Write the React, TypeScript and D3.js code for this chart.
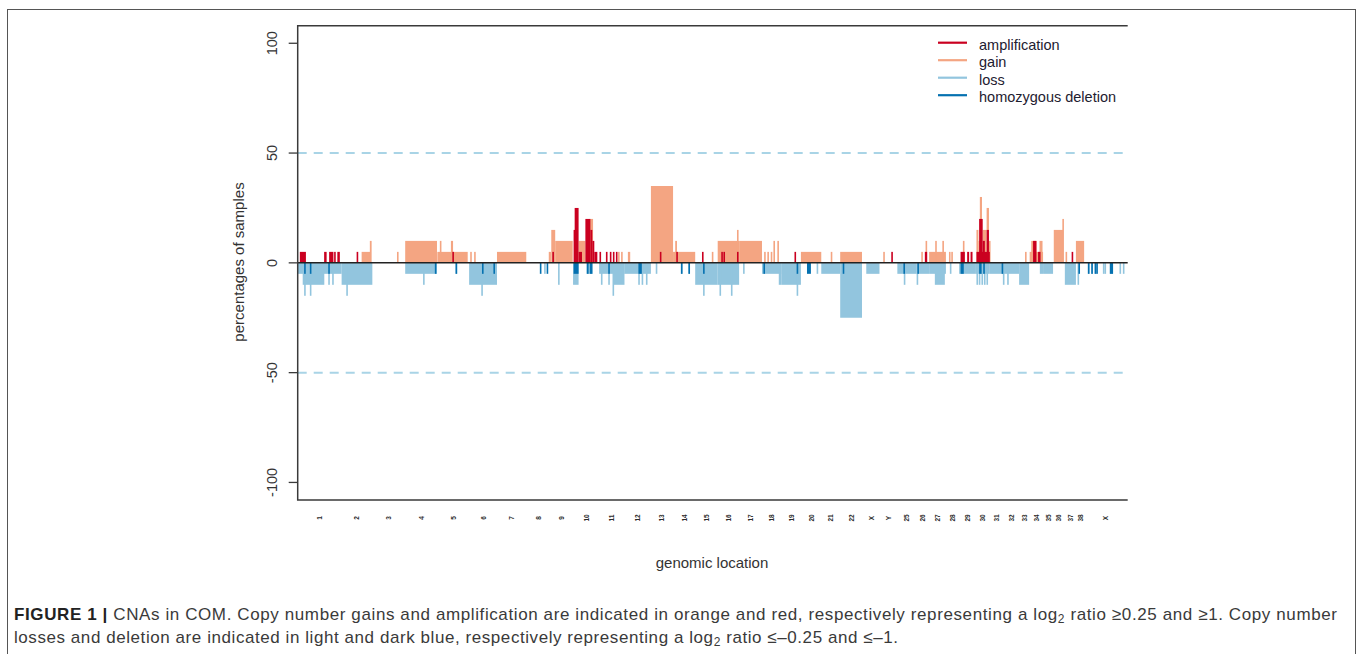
import React from "react";
import * as d3 from "d3";

// chromosome labels as printed under the axis and their lengths (Mb)
const chrNames = [
  "1", "2", "3", "4", "5", "6", "7", "8", "9", "10", "11", "12", "13", "14",
  "15", "16", "17", "18", "19", "20", "21", "22", "X", "Y", "25", "26", "27",
  "28", "29", "30", "31", "32", "33", "34", "35", "36", "37", "38", "X",
];
const chrLengths = [
  123, 86, 92, 89, 90, 78, 82, 69, 62, 73, 71, 74, 62, 62, 63, 60, 64, 54, 55,
  57, 53, 61, 51, 48, 54, 35, 47, 37, 47, 39, 39, 43, 28, 39, 28, 33, 31, 23,
  122,
];

// [chromosome index (1-based), start Mb, end Mb, % of samples]
const gain = [
  [2, 56, 81, 5], [2, 79, 84, 10], [3, 69, 71, 5], [4, 0, 89, 10],
  [5, 1, 86, 5], [5, 8, 10.5, 10], [5, 39, 45, 10], [6, 3, 5, 5], [6, 14, 16, 5],
  [7, 0, 82, 5], [8, 63, 69, 5], [9, 1, 12, 15], [9, 12, 61, 10],
  [10, 15.5, 34.5, 10], [10, 46, 56, 20], [11, 53, 55, 5], [11, 61.5, 65, 5],
  [12, 9.5, 16, 5], [13, 0, 62, 35], [14, 0, 62, 5], [14, 6, 11, 10],
  [15, 46.5, 48.5, 5], [16, 0, 60, 10], [16, 54, 58, 15], [17, 0, 64, 10],
  [18, 6, 7.5, 5], [18, 15, 16.5, 5], [18, 24.5, 26, 5], [18, 32, 33.5, 10],
  [18, 43, 44.5, 10], [20, 0, 57, 5], [21, 26.5, 28, 5], [22, 0, 61, 5],
  [24, 8.5, 10, 5], [26, 13, 15, 5], [26, 25, 27, 10], [27, 0, 47, 5],
  [27, 17, 19, 10], [27, 37, 38.5, 10], [28, 8.5, 10, 5], [28, 15, 17, 5],
  [29, 10.5, 12, 10], [30, 1.5, 7, 15], [30, 7, 11, 10], [30, 11, 17, 30],
  [30, 19, 29.5, 15], [30, 30, 36.5, 25], [30, 36.5, 39, 10],
  [33, 16.5, 18.5, 5], [34, 1.5, 39, 5], [34, 6, 20.5, 10], [34, 29, 37.5, 10],
  [36, 2, 28, 15], [36, 26, 30, 20], [37, 2, 3.5, 5], [38, 0, 23, 10],
];
const amplification = [
  [1, 6, 23, 5], [1, 74, 81, 5], [1, 88, 100, 5], [1, 102, 106, 5],
  [1, 111, 118, 5], [2, 42, 46, 5], [5, 43, 45, 5], [9, 4, 8, 5],
  [10, 1.5, 4.5, 15], [10, 4.5, 15.5, 25], [10, 15.5, 25, 5],
  [10, 34.5, 48.5, 20], [10, 48.5, 54, 15], [10, 54, 59.5, 10],
  [10, 59.5, 68, 5], [11, 1, 5.5, 5], [11, 19, 21.5, 5], [11, 30, 33, 5],
  [11, 38.5, 41, 5], [11, 47, 51, 5], [13, 25, 27, 5], [14, 9, 13, 5],
  [15, 19, 21, 5], [16, 10, 11.5, 5], [16, 16, 17.5, 5], [16, 54, 55.5, 5],
  [19, 37, 41, 5], [24, 31, 35.5, 5], [26, 23, 29.5, 5], [29, 4, 16, 5],
  [29, 22.5, 28, 5], [29, 32, 37.5, 5], [30, 1.5, 39, 5], [30, 9, 19, 20],
  [30, 19, 25, 10], [30, 30, 36.5, 15], [34, 11, 20.5, 10], [34, 25, 32, 5],
  [37, 19, 23, 5],
];
const loss = [
  [1, 0, 123, 5], [1, 14, 74.5, 10], [1, 18, 19, 15], [1, 34, 35, 15],
  [1, 85.5, 86.5, 10], [1, 96.5, 97.5, 10], [2, 0, 86, 10], [2, 13, 15, 15],
  [4, 0, 89, 5], [4, 50, 52, 10], [5, 52, 54, 5], [6, 0, 78, 10],
  [6, 34, 36, 15], [8, 50, 52, 5], [9, 20, 21.5, 10], [10, 0, 15.5, 10],
  [10, 37, 55, 5], [11, 0, 71, 5], [11, 40, 71, 10], [11, 5, 6.5, 10],
  [11, 25.5, 27, 10], [11, 37.5, 39, 15], [12, 0, 74, 5], [12, 38.5, 40, 10],
  [12, 48, 49.5, 10], [12, 60, 61.5, 10], [13, 13.5, 15, 5], [14, 22, 23.5, 5],
  [14, 43, 44.5, 5], [15, 0, 63, 10], [15, 22, 23.5, 15], [16, 0, 60, 10],
  [16, 5, 6.5, 15], [16, 37, 38.5, 15], [17, 11, 12.5, 5], [18, 0, 54, 5],
  [18, 47, 54, 10], [19, 0, 55, 10], [19, 43, 44.5, 15], [20, 44, 45.5, 5],
  [21, 0, 53, 5], [22, 0, 61, 25], [23, 12, 49, 5], [25, 0, 54, 5],
  [25, 18, 19.5, 10], [26, 0, 35, 5], [26, 0, 1.5, 10], [27, 0, 47, 5],
  [27, 16, 44, 10], [28, 11, 12.5, 5], [29, 0, 47, 5], [30, 0, 39, 5],
  [30, 1.5, 3, 10], [30, 8, 9.5, 10], [30, 15.5, 17, 10], [30, 22.5, 24, 10],
  [30, 29.5, 31, 10], [31, 0, 39, 5], [31, 36.5, 38, 10], [32, 0, 43, 5],
  [32, 9.5, 11, 10], [33, 0, 28, 10], [34, 30, 39, 5], [35, 0, 28, 5],
  [37, 0, 31, 10], [38, 4.5, 8.5, 10], [39, 10.5, 12, 5], [39, 20, 21.5, 5],
  [39, 29.5, 31, 5], [39, 52.5, 54, 5], [39, 57, 59, 5], [39, 72, 81, 5],
  [39, 99, 100.5, 5], [39, 108.5, 110, 5],
];
const homDeletion = [
  [1, 18, 19, 5], [1, 34, 35, 5], [1, 85.5, 86.5, 5], [4, 83, 85, 5],
  [5, 52, 54, 5], [6, 36, 38, 5], [6, 68, 70, 5], [8, 38, 40, 5],
  [8, 57, 59, 5], [10, 1.5, 15.5, 5], [10, 39, 43, 5], [10, 47, 54, 5],
  [11, 25.5, 27, 5], [12, 39, 48.5, 5], [14, 22, 23.5, 5], [14, 43, 44.5, 5],
  [15, 22, 23.5, 5], [18, 4, 5.5, 5], [19, 43, 44.5, 5], [20, 17, 28, 5],
  [22, 7, 8.5, 5], [25, 17, 20, 5], [26, 2, 3.5, 5], [29, 4, 13, 5],
  [30, 9, 16, 5], [30, 20.5, 25, 5], [31, 33, 35, 5], [38, 7, 8.5, 5],
  [39, 10.5, 12, 5], [39, 20, 24, 5], [39, 29.5, 31, 5], [39, 34, 35.5, 5],
  [39, 72, 81, 5],
];

const yTicks = [-100, -50, 0, 50, 100];
const legendItems = ["amplification", "gain", "loss", "homozygous deletion"];
const legendColors = ["#ca0020", "#f4a582", "#92c5de", "#0571b0"];

const W = 1357;
const H = 654;
const font = "'Liberation Sans', Arial, sans-serif";

export default function App() {
  const offsets = d3.cumsum([0, ...chrLengths]);
  const total = offsets[offsets.length - 1];
  const left = 297.7, right = 1127.7, top = 25.7, bottom = 500;

  const x = d3.scaleLinear().domain([0, total]).range([left, right]);
  const y = d3.scaleLinear().domain([-108, 108]).range([bottom, top]);
  const gx = (chr: number, mb: number) => x(offsets[chr - 1] + mb);

  const bars = (data: number[][], color: string, sign: number, key: string) =>
    data.map((d, i) => {
      const x0 = gx(d[0], d[1]);
      const w = Math.max(gx(d[0], d[2]) - x0, 1.6);
      const v = y(sign * d[3]);
      return (
        <rect
          key={key + i}
          x={x0}
          y={Math.min(v, y(0))}
          width={w}
          height={Math.abs(y(0) - v)}
          fill={color}
        />
      );
    });

  return (
    <svg
      width={W}
      height={H}
      style={{ position: "absolute", left: 0, top: 0, background: "#fff" }}
      fontFamily={font}
    >
      <rect x={7.5} y={9.5} width={1348} height={700} fill="none" stroke="#555" strokeWidth={1} />

      {/* reference lines at +-50 */}
      {[50, -50].map((v) => (
        <line key={v} x1={left} x2={right} y1={y(v)} y2={y(v)} stroke="#a9d4e6" strokeWidth={2} strokeDasharray="9,7" />
      ))}

      {bars(gain, legendColors[1], 1, "g")}
      {bars(amplification, legendColors[0], 1, "a")}
      {bars(loss, legendColors[2], -1, "l")}
      {bars(homDeletion, legendColors[3], -1, "h")}

      {/* chromosome boundaries */}
      {offsets.slice(1).map((o, i) => (
        <line key={i} x1={x(o)} x2={x(o)} y1={top} y2={bottom} stroke="#c8c8c8" strokeWidth={2} />
      ))}

      <line x1={left} x2={right} y1={y(0)} y2={y(0)} stroke="#222" strokeWidth={1.5} />

      {/* box: left, top, bottom */}
      <path d={`M${right},${top}H${left}V${bottom}H${right}`} fill="none" stroke="#3a3a3a" strokeWidth={1.5} />

      {/* y axis */}
      {yTicks.map((t) => (
        <g key={t}>
          <line x1={left - 9} x2={left} y1={y(t)} y2={y(t)} stroke="#3a3a3a" strokeWidth={1.3} />
          <text
            transform={`translate(272,${y(t)}) rotate(-90)`}
            textAnchor="middle"
            dominantBaseline="central"
            fontSize={14.5}
            fill="#333"
          >
            {t}
          </text>
        </g>
      ))}
      <text transform={`translate(238,262) rotate(-90)`} textAnchor="middle" dominantBaseline="central" fontSize={15} fill="#333">
        percentages of samples
      </text>

      {/* chromosome labels */}
      {chrNames.map((n, i) => (
        <text
          key={i}
          transform={`translate(${x(offsets[i] + chrLengths[i] / 2)},518) rotate(-90)`}
          textAnchor="middle"
          dominantBaseline="central"
          fontSize={6.5}
          fontWeight="bold"
          fill="#2a2a2a"
        >
          {n}
        </text>
      ))}
      <text x={712} y={562} textAnchor="middle" dominantBaseline="central" fontSize={15} fill="#333">
        genomic location
      </text>

      {/* legend */}
      {legendItems.map((name, i) => (
        <g key={name}>
          <line x1={938} x2={967} y1={42.7 + i * 17.5} y2={42.7 + i * 17.5} stroke={legendColors[i]} strokeWidth={2.2} />
          <text x={979} y={44.5 + i * 17.5} dominantBaseline="central" fontSize={14.5} fill="#1e2030">
            {name}
          </text>
        </g>
      ))}

      {/* caption */}
      <text x={14} y={620} fontSize={17} fill="#3a3a3a" textLength={1323} lengthAdjust="spacing">
        <tspan fontWeight="bold" fill="#222">FIGURE 1 | </tspan>
        CNAs in COM. Copy number gains and amplification are indicated in orange and red, respectively representing a log
        <tspan fontSize={12} dy={3}>2</tspan>
        <tspan dy={-3}> ratio ≥0.25 and ≥1. Copy number</tspan>
      </text>
      <text x={14} y={643} fontSize={17} fill="#3a3a3a" textLength={884} lengthAdjust="spacing">
        losses and deletion are indicated in light and dark blue, respectively representing a log
        <tspan fontSize={12} dy={3}>2</tspan>
        <tspan dy={-3}> ratio ≤–0.25 and ≤–1.</tspan>
      </text>
    </svg>
  );
}
